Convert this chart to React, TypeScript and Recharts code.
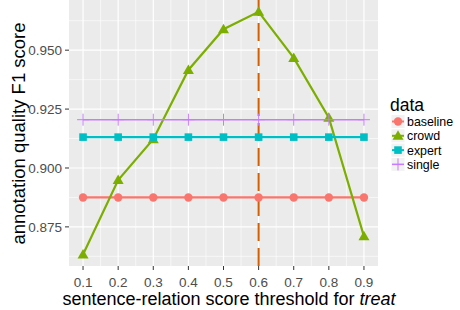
import React from "react";
import {
  ComposedChart,
  Line,
  XAxis,
  YAxis,
  CartesianGrid,
  ReferenceLine,
} from "recharts";

const thresholds = [0.1, 0.2, 0.3, 0.4, 0.5, 0.6, 0.7, 0.8, 0.9];
const baselineScores = [0.8875, 0.8875, 0.8875, 0.8875, 0.8875, 0.8875, 0.8875, 0.8875, 0.8875];
const crowdScores = [0.8633, 0.8949, 0.9122, 0.9416, 0.9589, 0.9663, 0.9467, 0.9213, 0.871];
const expertScores = [0.9131, 0.9131, 0.9131, 0.9131, 0.9131, 0.9131, 0.9131, 0.9131, 0.9131];
const singleScores = [0.9205, 0.9205, 0.9205, 0.9205, 0.9205, 0.9205, 0.9205, 0.9205, 0.9205];

const yTicks = [0.875, 0.9, 0.925, 0.95];
const yMinor = [0.8625, 0.8875, 0.9125, 0.9375, 0.9625];
const xMinor = [0.15, 0.25, 0.35, 0.45, 0.55, 0.65, 0.75, 0.85];
const cutoff = 0.6;

const seriesNames = ["baseline", "crowd", "expert", "single"];
const colors: Record<string, string> = {
  baseline: "#F8766D",
  crowd: "#7CAE00",
  expert: "#00BFC4",
  single: "#C77CFF",
};

const rows = thresholds.map((x, i) => ({
  x,
  baseline: baselineScores[i],
  crowd: crowdScores[i],
  expert: expertScores[i],
  single: singleScores[i],
}));

const FONT = "'Liberation Sans', Arial, Helvetica, sans-serif";

const Circle = (p: any) => (
  <circle key={`c${p.index}`} cx={p.cx} cy={p.cy} r={4.2} fill={colors.baseline} />
);
const Tri = (p: any) => (
  <polygon
    key={`t${p.index}`}
    points={`${p.cx},${p.cy - 5.5} ${p.cx - 5.5},${p.cy + 4} ${p.cx + 5.5},${p.cy + 4}`}
    fill={colors.crowd}
  />
);
const Sq = (p: any) => (
  <rect key={`s${p.index}`} x={p.cx - 3.8} y={p.cy - 3.8} width={7.6} height={7.6} fill={colors.expert} />
);
const Plus = (p: any) => (
  <g key={`p${p.index}`} stroke={colors.single} strokeWidth={1}>
    <line x1={p.cx - 6} x2={p.cx + 6} y1={p.cy} y2={p.cy} />
    <line x1={p.cx} x2={p.cx} y1={p.cy - 6} y2={p.cy + 6} />
  </g>
);

const XTick = (p: any) => (
  <text x={p.x} y={286.5} textAnchor="middle" fontSize={13.5} fill="#4D4D4D" fontFamily={FONT}>
    {p.payload.value.toFixed(1)}
  </text>
);
const YTick = (p: any) => (
  <text x={62} y={p.y + 4.8} textAnchor="end" fontSize={13.5} fill="#4D4D4D" fontFamily={FONT}>
    {p.payload.value.toFixed(3)}
  </text>
);

const LegendKey = ({ name, y }: { name: string; y: number }) => {
  const cx = 398;
  let shape: React.ReactNode = null;
  if (name === "baseline") shape = <circle cx={cx} cy={y} r={4.2} fill={colors.baseline} />;
  if (name === "crowd")
    shape = (
      <polygon points={`${cx},${y - 5.5} ${cx - 5.5},${y + 4} ${cx + 5.5},${y + 4}`} fill={colors.crowd} />
    );
  if (name === "expert")
    shape = <rect x={cx - 3.8} y={y - 3.8} width={7.6} height={7.6} fill={colors.expert} />;
  if (name === "single")
    shape = (
      <g stroke={colors.single} strokeWidth={1}>
        <line x1={cx - 6} x2={cx + 6} y1={y} y2={y} />
        <line x1={cx} x2={cx} y1={y - 6} y2={y + 6} />
      </g>
    );
  return (
    <g>
      <rect x={391.5} y={y - 6.5} width={13} height={13} fill="#F2F2F2" />
      <line x1={392} x2={404} y1={y} y2={y} stroke={colors[name]} strokeWidth={name === "single" ? 1.5 : 2} />
      {shape}
      <text x={407} y={y + 4.4} fontSize={12.4} fill="#000" fontFamily={FONT}>
        {name}
      </text>
    </g>
  );
};

export default function App() {
  return (
    <div style={{ position: "absolute", left: 0, top: 0, width: 460, height: 310, background: "#fff" }}>
      <ComposedChart
        width={460}
        height={310}
        data={rows}
        margin={{ top: 0, right: 82, bottom: 0, left: 0 }}
        style={{ fontFamily: FONT }}
      >
        <CartesianGrid
          fill="#EBEBEB"
          stroke="#FFFFFF"
          strokeWidth={0.6}
          horizontalValues={yMinor}
          verticalValues={xMinor}
        />
        <CartesianGrid
          stroke="#FFFFFF"
          strokeWidth={1.2}
          horizontalValues={yTicks}
          verticalValues={thresholds}
        />
        <XAxis
          dataKey="x"
          type="number"
          domain={[0.06, 0.94]}
          ticks={thresholds}
          height={44}
          axisLine={false}
          tickSize={4}
          tickLine={{ stroke: "#333333", strokeWidth: 1 }}
          tick={<XTick />}
          allowDataOverflow
        />
        <YAxis
          type="number"
          domain={[0.8584, 0.9713]}
          ticks={yTicks}
          width={69}
          axisLine={false}
          tickSize={4}
          tickLine={{ stroke: "#333333", strokeWidth: 1 }}
          tick={<YTick />}
          allowDataOverflow
        />
        <Line dataKey="baseline" stroke={colors.baseline} strokeWidth={2.2} dot={Circle} isAnimationActive={false} />
        <Line dataKey="crowd" stroke={colors.crowd} strokeWidth={2.2} dot={Tri} isAnimationActive={false} />
        <Line dataKey="expert" stroke={colors.expert} strokeWidth={2.2} dot={Sq} isAnimationActive={false} />
        <Line dataKey="single" stroke={colors.single} strokeWidth={1.6} dot={Plus} isAnimationActive={false} />
        <ReferenceLine x={cutoff} stroke="#D55E00" strokeWidth={2} strokeDasharray="18 7" />
      </ComposedChart>
      <svg width={460} height={310} style={{ position: "absolute", left: 0, top: 0, pointerEvents: "none" }}>
        <text
          transform="translate(25,133.5) rotate(-90)"
          textAnchor="middle"
          fontSize={18.5}
          fill="#000"
          fontFamily={FONT}
        >
          annotation quality F1 score
        </text>
        <text x={229} y={305} textAnchor="middle" fontSize={18} fill="#000" fontFamily={FONT}>
          sentence-relation score threshold for <tspan fontStyle="italic">treat</tspan>
        </text>
        <text x={390} y={111} fontSize={17.5} fill="#000" fontFamily={FONT}>
          data
        </text>
        {seriesNames.map((n, i) => (
          <LegendKey key={n} name={n} y={121.5 + i * 14.3} />
        ))}
      </svg>
    </div>
  );
}
